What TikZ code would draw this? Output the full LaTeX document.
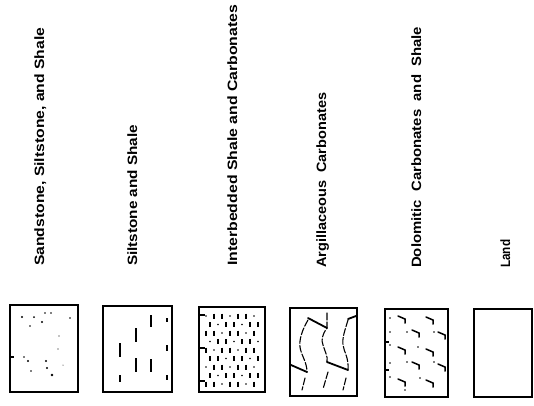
\documentclass[tikz,border=0pt]{standalone}
\usepackage{fontspec}
\setmainfont{Liberation Sans}
\usepackage{graphicx}
\begin{document}
\begin{tikzpicture}[x=1pt,y=-1pt,
  legbox/.style={draw, line width=1.8pt},
  lbl/.style={rotate=90, anchor=base west, inner sep=0pt, font=\fontsize{13.5}{15}\selectfont\bfseries},
  wavy/.style={line width=1.1pt, dash pattern=on 7pt off 2pt, line cap=round},
  slash/.style={line width=1.8pt, line cap=round},
  dashmark/.style={line width=1.2pt},
  hook/.style={line width=1.5pt, line cap=round}
]
\useasboundingbox (0,0) rectangle (534,405);

% labels
\node[lbl] (l1) at (44,266) {\resizebox{238pt}{\height}{Sandstone, Siltstone, and Shale}};
\node[lbl] (l2) at (137,266) {\resizebox{141pt}{\height}{Siltstone and Shale}};
\node[lbl] (l3) at (237,266) {\resizebox{261pt}{\height}{Interbedded Shale and Carbonates}};
\node[lbl] (l4) at (326,268) {\resizebox{175pt}{\height}{Argillaceous\ \ Carbonates}};
\node[lbl] (l5) at (421,268) {\resizebox{241pt}{\height}{Dolomitic\ \ Carbonates\ \ and\ \ Shale}};
\node[lbl] (l6) at (510,268) {\resizebox{28pt}{\height}{Land}};

% boxes
\draw[legbox] (10,305) rectangle (78,392);
\draw[legbox] (103,306) rectangle (172,392);
\draw[legbox] (199,307) rectangle (265,392);
\draw[legbox] (290,308) rectangle (357,396);
\draw[legbox] (385,309) rectangle (448,397);
\draw[legbox] (474,309) rectangle (532,397);

% box 1: scattered dots
\foreach \x/\y/\r in {22/317/1.2, 34/317/1.0, 45/313/0.8, 51/313/0.8, 42/322/1.1, 30/326/0.8, 70/318/0.8,
  59/336/0.7, 58/349/0.6, 24/357/0.8, 28/361/1.1, 46/361/1.2, 47/368/1.1, 31/371/0.8, 63/365/0.5, 52/375/1.4}
  {\fill (\x,\y) circle (\r pt);}
\draw[line width=1.5pt] (10,357) -- (14,357);

% box 2: short vertical dashes
\foreach \x/\a/\b in {151/315/327, 136/328/342, 120/343/357, 136/358/372, 151/359/372, 120/375/382,
  167/318/322, 167/345/351, 167/375/380}
  {\draw[dashmark] (\x,\a) -- (\x,\b);}

% box 3: dense dashes and dots
\foreach \r in {0,...,8} {
  \foreach \c in {0,...,6} {
    \pgfmathsetmacro\xx{206+8*\c+4*mod(\r,2)}
    \pgfmathsetmacro\yy{316+8.5*\r}
    \pgfmathtruncatemacro\t{mod(\r+2*\c,3)}
    \ifnum\t=0
      \fill (\xx,\yy) circle (0.9pt);
    \else
      \draw[dashmark] (\xx,\yy-2.5) -- (\xx,\yy+2.5);
    \fi
  }
}
\foreach \y in {315,348,381} {\draw[line width=1.5pt] (199,\y) -- (205,\y);}

% box 4: wavy lines with slashes
\draw[wavy] (308,320) .. controls (302,330) and (299,340) .. (300,347) .. controls (301,355) and (307,362) .. (307,372);
\draw[wavy] (305,378) -- (302,390);
\draw[wavy] (327,313) -- (327,328) .. controls (322,335) and (321,340) .. (323,345) .. controls (325,352) and (328,356) .. (327,362);
\draw[wavy] (328,372) -- (323,389);
\draw[wavy] (348,320) .. controls (345,330) and (342,338) .. (343,345) .. controls (344,352) and (349,358) .. (348,370);
\draw[wavy] (346,378) -- (343,390);
\draw[slash] (308,318) -- (327,328);
\draw[slash] (291,365) -- (307,372);
\draw[slash] (327,362) -- (348,370);
\draw[slash] (348,319) -- (356,316);

% box 5: hooked marks and dots
\foreach \x/\y in {398/319, 426/320, 412/333, 438/335, 398/350, 426/352, 412/365, 438/367, 398/382, 426/383}
  {\draw[hook] (\x,\y-3) -- ++(7,3) -- ++(0,4);}
\foreach \x/\y in {390/318, 390/332, 390/345, 390/363, 390/377, 407/332, 407/362, 418/347, 420/378, 434/332, 434/362, 405/390}
  {\fill (\x,\y) circle (0.8pt);}
\draw[line width=1.5pt] (385,342) -- (389,342);
\draw[line width=1.5pt] (385,370) -- (389,370);
\end{tikzpicture}
\end{document}
